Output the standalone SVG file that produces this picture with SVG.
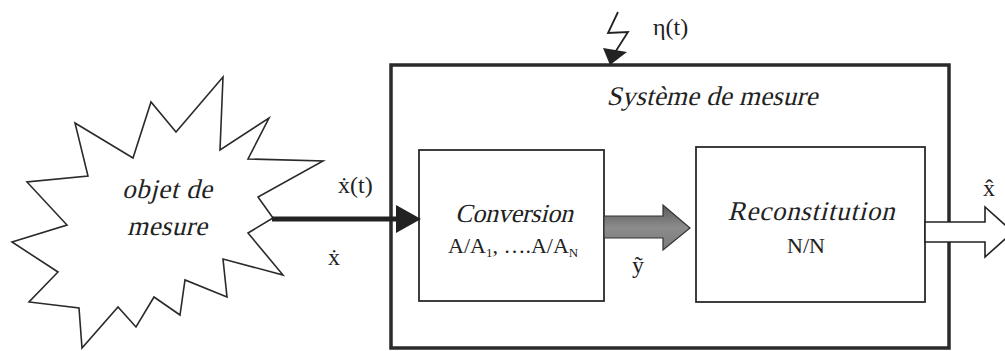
<svg xmlns="http://www.w3.org/2000/svg" width="1005" height="351" viewBox="0 0 1005 351">
<style>
.it{font-family:"Liberation Serif",serif;fill:#222}
.rm{font-family:"Liberation Serif",serif;fill:#222}
.box{fill:#fff;stroke:#2a2a2a}
</style>
<defs>
<linearGradient id="gg" x1="0" y1="0" x2="0" y2="1">
<stop offset="0" stop-color="#5a5a5a"/>
<stop offset="0.5" stop-color="#8c8c8c"/>
<stop offset="1" stop-color="#7a7a7a"/>
</linearGradient>
</defs>
<rect width="1005" height="351" fill="#fff"/>

<g id="systeme">
<rect class="box" x="391" y="65" width="558" height="283" stroke-width="3.5"/>
<text class="it" transform="translate(712,105) skewX(-14)" font-size="27" text-anchor="middle" textLength="211">Système de mesure</text>
</g>

<g id="objet">
<polygon class="box" stroke-width="1.6" points="223,77 220,150 269,118 248,159 323,161 258,197 273,218 248,233 283,275 223,259 227,297 185,280 180,315 154,297 136,327 118,307 82,348 79,308 29,302 58,272 12,242 67,225 27,182 88,176 75,123 133,158 151,102 176,132"/>
<text class="it" transform="translate(167,198) skewX(-14)" font-size="27" text-anchor="middle" textLength="90">objet de</text>
<text class="it" transform="translate(167,235) skewX(-14)" font-size="27" text-anchor="middle" textLength="80">mesure</text>
</g>

<g id="conversion">
<rect class="box" x="419" y="150" width="185" height="151" stroke-width="1.8"/>
<text class="it" transform="translate(514,222) skewX(-14)" font-size="26" text-anchor="middle" textLength="118">Conversion</text>
<text class="rm" x="448" y="253" font-size="22">A/A<tspan font-size="13" dy="4">1</tspan><tspan dy="-4">, ….A/A</tspan><tspan font-size="13" dy="4">N</tspan></text>
</g>

<g id="reconstitution">
<rect class="box" x="696" y="147" width="229" height="155" stroke-width="1.8"/>
<text class="it" transform="translate(811,220) skewX(-14)" font-size="27" text-anchor="middle" textLength="167">Reconstitution</text>
<text class="rm" x="806" y="253" font-size="22" text-anchor="middle">N/N</text>
</g>

<g id="connectors">
<line x1="272" y1="219" x2="398" y2="219" stroke="#222" stroke-width="5"/>
<polygon points="396,205 421,219 396,233" fill="#222"/>
<polygon points="604,216 663,216 663,205 690,228 663,250 663,238 604,238" fill="url(#gg)" stroke="#333" stroke-width="1.2"/>
<polygon points="925,222 985,222 985,207 1013,232 985,257 985,242 925,242" fill="#fff" stroke="#222" stroke-width="1.6"/>
<polyline points="618,12 608,33 628,32 614,54" fill="none" stroke="#222" stroke-width="1.8"/>
<polygon points="603,48 627,52 610,65" fill="#222"/>
</g>

<g id="labels">
<text class="rm" x="338" y="193" font-size="24">ẋ(t)</text>
<text class="rm" x="328" y="265" font-size="24">ẋ</text>
<text class="rm" x="632" y="273" font-size="24">ỹ</text>
<text class="rm" x="983" y="196" font-size="24">x̂</text>
<text class="rm" x="653" y="35" font-size="24">η(t)</text>
</g>
</svg>
